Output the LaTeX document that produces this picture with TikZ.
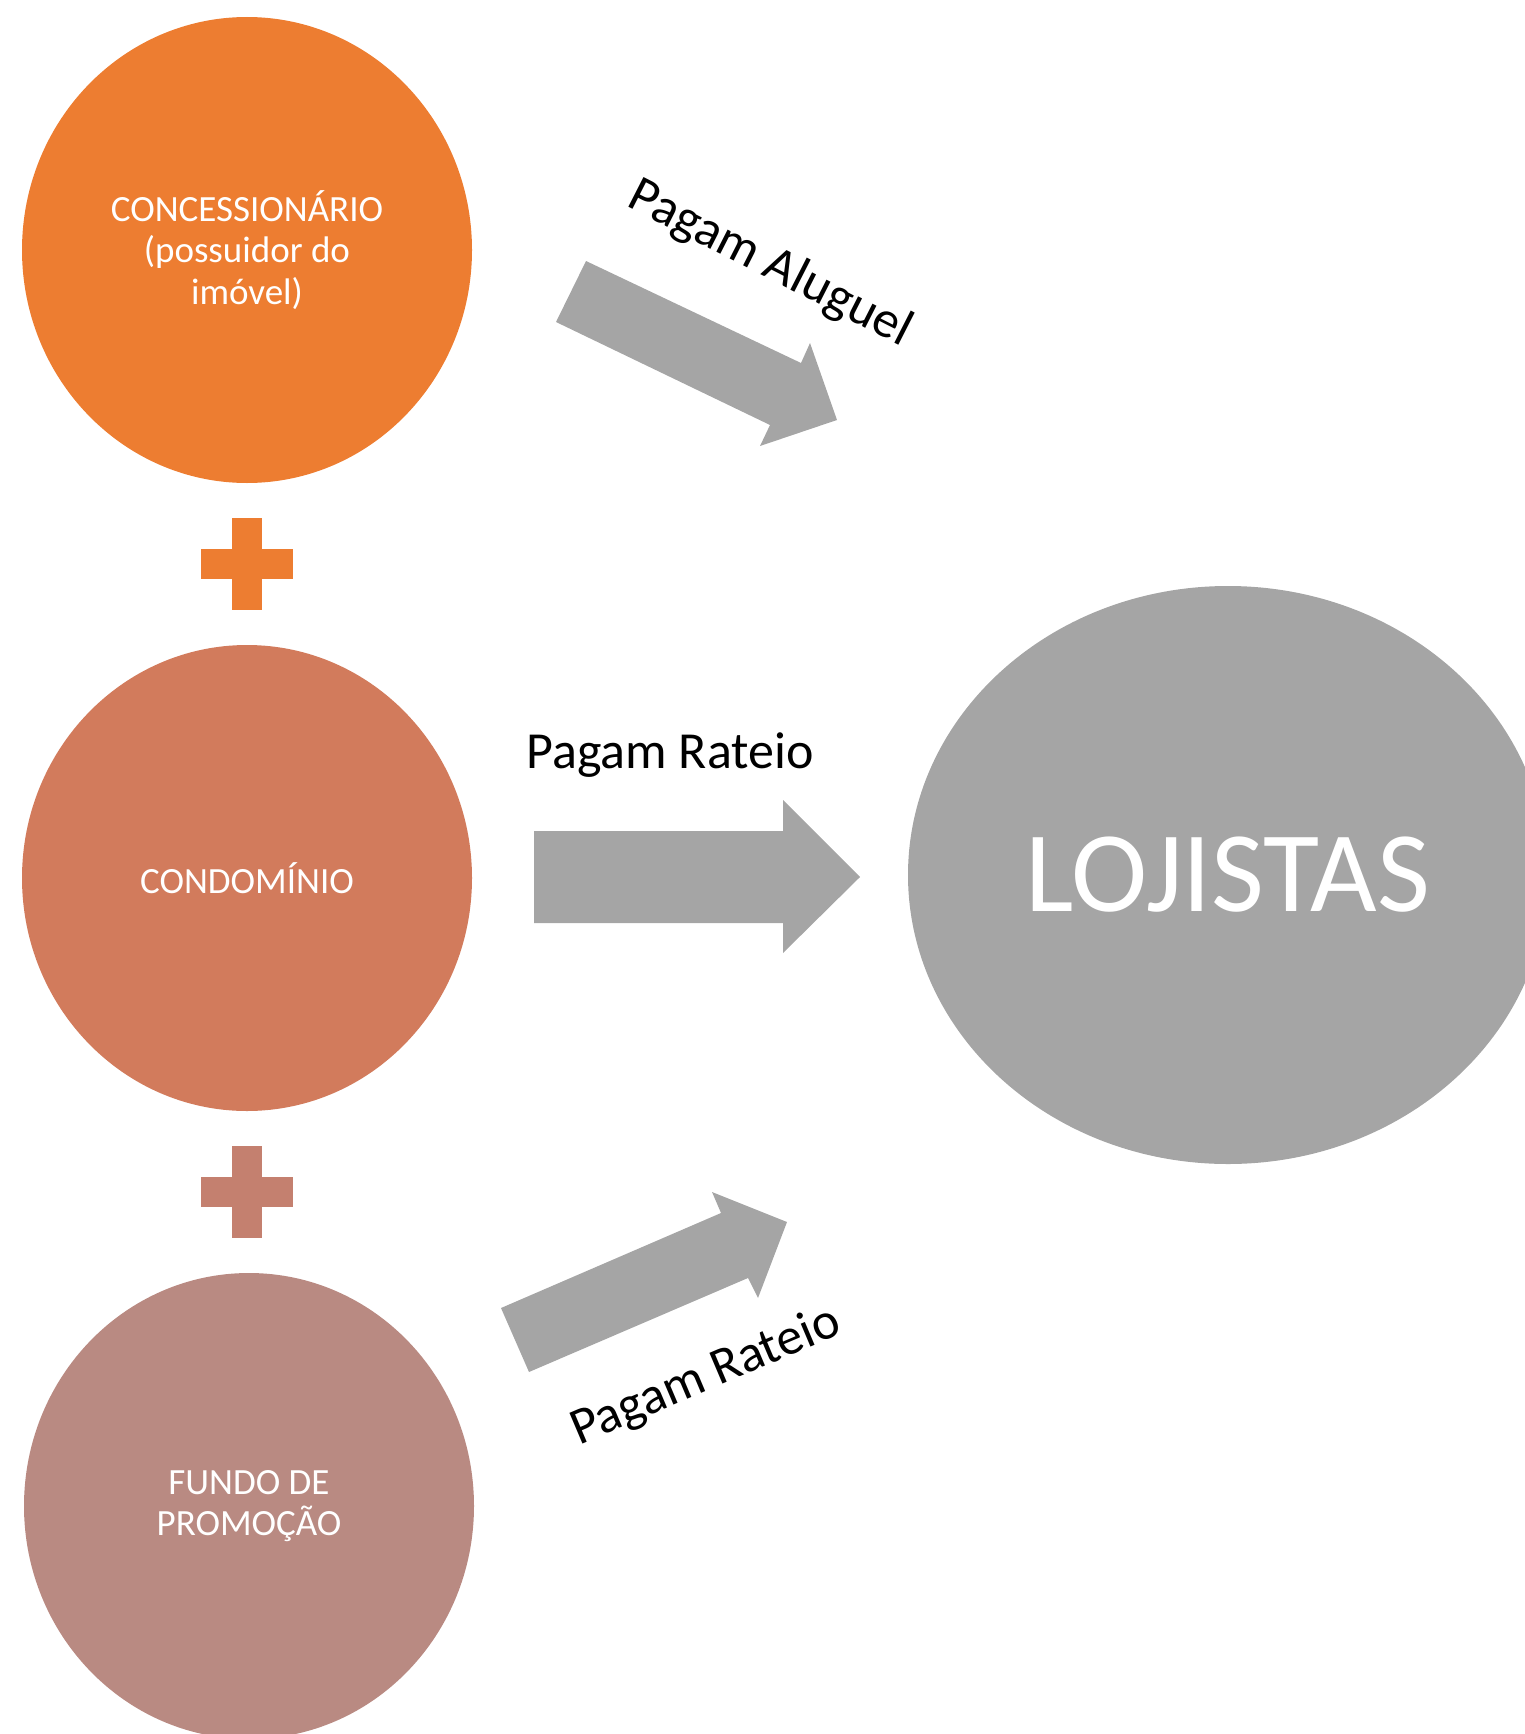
\documentclass[tikz,border=0pt]{standalone}
\usepackage{fontspec}
\setmainfont{Carlito}
\usetikzlibrary{shapes.geometric}
\definecolor{accOrange}{HTML}{ED7D31}
\definecolor{accTerra}{HTML}{D27B5C}
\definecolor{accRose}{HTML}{B98A82}
\definecolor{plusRose}{HTML}{C4806F}
\definecolor{flowGray}{HTML}{A5A5A5}
\begin{document}
\begin{tikzpicture}[x=1pt,y=-1pt,
  party/.style={ellipse, inner sep=0pt, minimum width=450pt, minimum height=466pt,
    text=white, align=center, font=\fontsize{37}{41.5}\selectfont},
  flowarrow/.style={fill=flowGray},
  flowlabel/.style={font=\fontsize{52}{62}\selectfont, inner sep=0pt, text=black},
  plussign/.style={fill=#1},
]
\clip (0,0) rectangle (1525,1734);

% the three contributing parties
\node[party, fill=accOrange] (conc) at (247,250) {CONCESSIONÁRIO\\(possuidor do\\imóvel)};
\node[party, fill=accTerra] (cond) at (247,878) {CONDOMÍNIO};
\node[party, fill=accRose] (fundo) at (249,1506) {FUNDO DE\\PROMOÇÃO};

% the shop tenants
\node[ellipse, inner sep=0pt, minimum width=640pt, minimum height=578pt, fill=flowGray,
  text=white, font=\fontsize{115}{130}\selectfont] (loj) at (1228,875) {LOJISTAS};

% plus signs between the parties
\coordinate (plusA) at (247,564);
\coordinate (plusB) at (247,1192);
\foreach \p/\c in {plusA/accOrange, plusB/plusRose}{
  \begin{scope}[shift={(\p)}]
    \fill[plussign=\c] (-46,-15) rectangle (46,15);
    \fill[plussign=\c] (-15,-46) rectangle (15,46);
  \end{scope}
}

% block arrows
\fill[flowarrow] (586,261) -- (801,363) -- (810,343) -- (837,420) -- (760,446)
  -- (770,425) -- (556,322) -- cycle;
\fill[flowarrow] (534,831) -- (783,831) -- (783,800) -- (860,877) -- (783,953)
  -- (783,923) -- (534,923) -- cycle;
\fill[flowarrow] (501,1308) -- (721,1213) -- (712,1192) -- (787,1222) -- (758,1298)
  -- (748,1278) -- (529,1372) -- cycle;

% arrow labels
\node[flowlabel, rotate=-27] (lblA) at (770,264) {Pagam Aluguel};
\node[flowlabel] (lblB) at (670,755) {Pagam Rateio};
\node[flowlabel, rotate=23] (lblC) at (706,1377) {Pagam Rateio};
\end{tikzpicture}
\end{document}
